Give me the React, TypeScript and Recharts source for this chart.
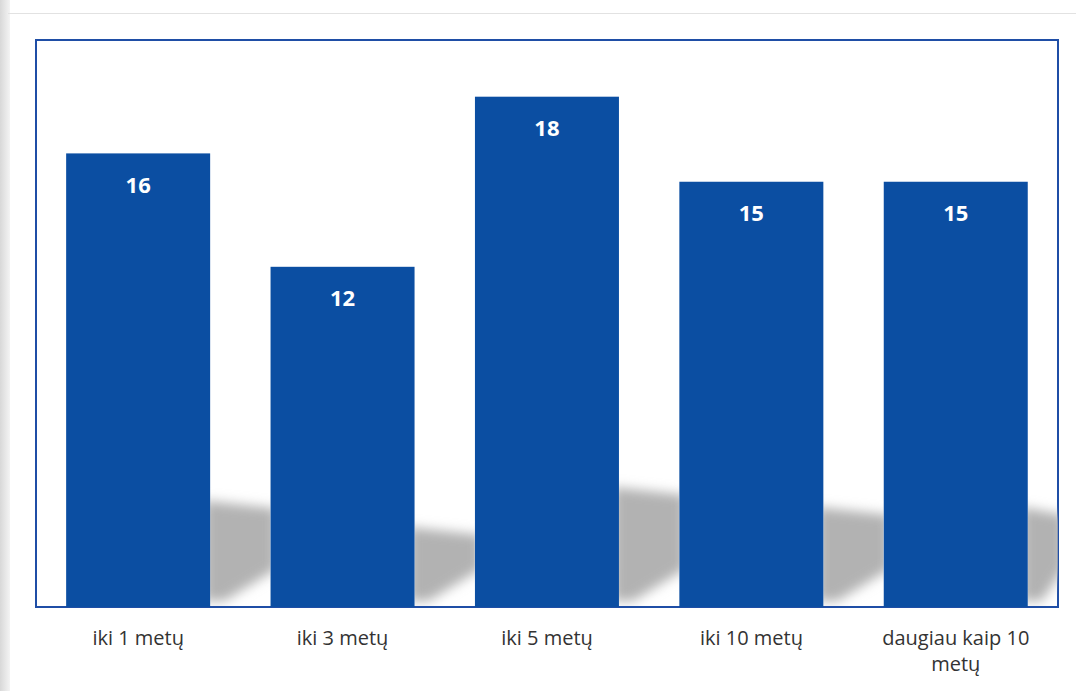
import { BarChart, Bar, XAxis, YAxis, LabelList, ReferenceArea } from "recharts";

const categories = ["iki 1 metų", "iki 3 metų", "iki 5 metų", "iki 10 metų", "daugiau kaip 10 metų"];
const counts = [16, 12, 18, 15, 15];

const data = categories.map((name, i) => ({ name, value: counts[i] }));

const BLUE = "#0b4ea2";
const GAP = 0.295; // share of the category band left empty

// bar with a soft grey shadow falling into the gap on its right
const ShadowBar = (props: any) => {
  const { x, y, width, height, index } = props;
  const band = width / (1 - GAP);
  let gap = band - width;
  if (index === data.length - 1) gap = gap / 2;
  const bottom = y + height;
  const top = bottom - height * 0.235;
  const left = x + width;
  const pts = [
    [left - 6, top],
    [left + gap + 6, top + 8],
    [left + gap + 6, bottom - 38],
    [left + 14, bottom - 6],
    [left - 6, bottom - 6],
  ]
    .map((p) => p.join(","))
    .join(" ");
  return (
    <g>
      <defs>
        <filter id={`blur${index}`} x="-50%" y="-50%" width="200%" height="200%">
          <feGaussianBlur stdDeviation="6" />
        </filter>
        <clipPath id={`clip${index}`}>
          <rect x={left} y={top - 30} width={gap} height={bottom - top + 29} />
        </clipPath>
      </defs>
      <g clipPath={`url(#clip${index})`}>
        <polygon points={pts} fill="#b2b2b2" filter={`url(#blur${index})`} />
      </g>
      <rect x={x} y={y} width={width} height={height} fill={BLUE} />
    </g>
  );
};

// wrap long category names into lines of at most 16 characters
const wrap = (s: string) => {
  const lines: string[] = [];
  let cur = "";
  s.split(" ").forEach((w) => {
    const next = cur ? cur + " " + w : w;
    if (next.length > 16 && cur) {
      lines.push(cur);
      cur = w;
    } else cur = next;
  });
  lines.push(cur);
  return lines;
};

const Tick = (props: any) => {
  const { x, y, payload } = props;
  return (
    <text
      x={x}
      y={y}
      textAnchor="middle"
      fontSize={20}
      fill="#333"
      style={{ fontFamily: "'Open Sans', sans-serif" }}
    >
      {wrap(payload.value).map((line, i) => (
        <tspan key={i} x={x} dy={i === 0 ? 18 : 26}>
          {line}
        </tspan>
      ))}
    </text>
  );
};

export default function App() {
  return (
    <div style={{ position: "absolute", left: 0, top: 0, width: 1076, height: 691, background: "#fff" }}>
      <div
        style={{
          position: "absolute",
          left: 0,
          top: 0,
          width: 10,
          height: 691,
          background: "linear-gradient(to right, #d8d8d8, #f4f4f4)",
        }}
      />
      <div style={{ position: "absolute", left: 8, top: 13, width: 1068, height: 1, background: "#e2e2e2" }} />
      <div style={{ position: "absolute", left: 0, top: 0 }}>
        <BarChart
          width={1076}
          height={691}
          data={data}
          margin={{ top: 40, right: 18, left: 36, bottom: 0 }}
          barCategoryGap={`${(GAP * 100) / 2}%`}
        >
          <XAxis
            dataKey="name"
            axisLine={false}
            tickLine={false}
            height={84}
            tick={<Tick />}
            tickMargin={14}
            interval={0}
          />
          <YAxis hide domain={[0, 20]} />
          <Bar dataKey="value" shape={<ShadowBar />} isAnimationActive={false}>
            <LabelList
              dataKey="value"
              position="insideTop"
              offset={24}
              fill="#fff"
              fontSize={22}
              fontWeight="bold"
              style={{ fontFamily: "'Open Sans', sans-serif" }}
            />
          </Bar>
          <ReferenceArea y1={0} y2={20} fill="none" stroke="#1f4ea6" strokeWidth={2} ifOverflow="visible" />
        </BarChart>
      </div>
    </div>
  );
}
